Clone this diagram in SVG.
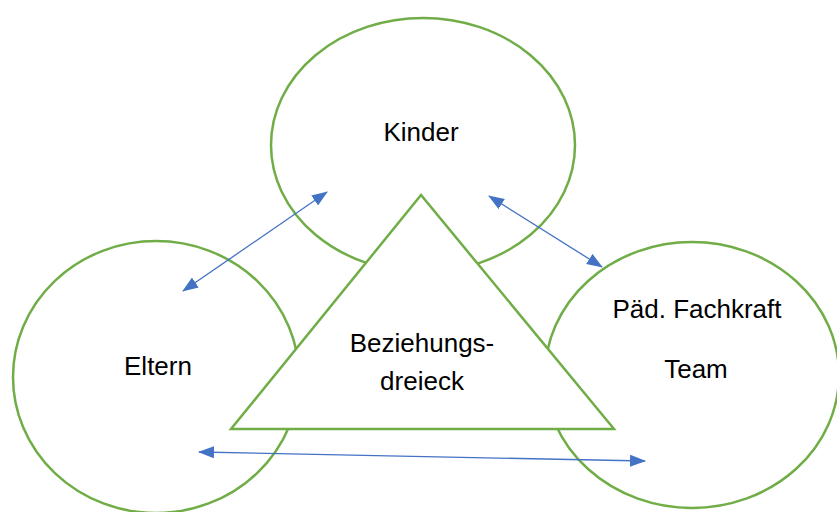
<svg xmlns="http://www.w3.org/2000/svg" width="837" height="512" viewBox="0 0 837 512">
<style>
.shape{fill:#ffffff;stroke:#70AD47;stroke-width:2.5}
.lbl{font-family:"Liberation Sans",Arial,sans-serif;font-size:26px;fill:#000;text-anchor:middle}
.arr{stroke:#4472C4;stroke-width:1.3;fill:none;marker-start:url(#ah);marker-end:url(#ah)}
</style>
<defs>
<marker id="ah" viewBox="0 0 16 12" refX="15" refY="6" markerWidth="16" markerHeight="12" markerUnits="userSpaceOnUse" orient="auto-start-reverse">
<path d="M0,0 L16,6 L0,12 Z" fill="#4472C4"/>
</marker>
</defs>
<rect width="837" height="512" fill="#ffffff"/>
<g id="kinder">
<ellipse class="shape" cx="423" cy="145" rx="152" ry="127"/>
<text class="lbl" x="421" y="141">Kinder</text>
</g>
<g id="eltern">
<ellipse class="shape" cx="156" cy="377" rx="143" ry="136"/>
<text class="lbl" x="158" y="375">Eltern</text>
</g>
<g id="team">
<ellipse class="shape" cx="692" cy="375" rx="147" ry="133"/>
<text class="lbl" x="697" y="318">Päd. Fachkraft</text>
<text class="lbl" x="696" y="378">Team</text>
</g>
<g id="dreieck">
<polygon class="shape" points="421,195 231,429 614,429"/>
<text class="lbl" x="422" y="352">Beziehungs-</text>
<text class="lbl" x="422" y="390">dreieck</text>
</g>
<g id="connectors">
<line class="arr" x1="183" y1="291" x2="327" y2="192"/>
<line class="arr" x1="489" y1="196" x2="602" y2="267"/>
<line class="arr" x1="199" y1="452" x2="645" y2="461"/>
</g>
</svg>
